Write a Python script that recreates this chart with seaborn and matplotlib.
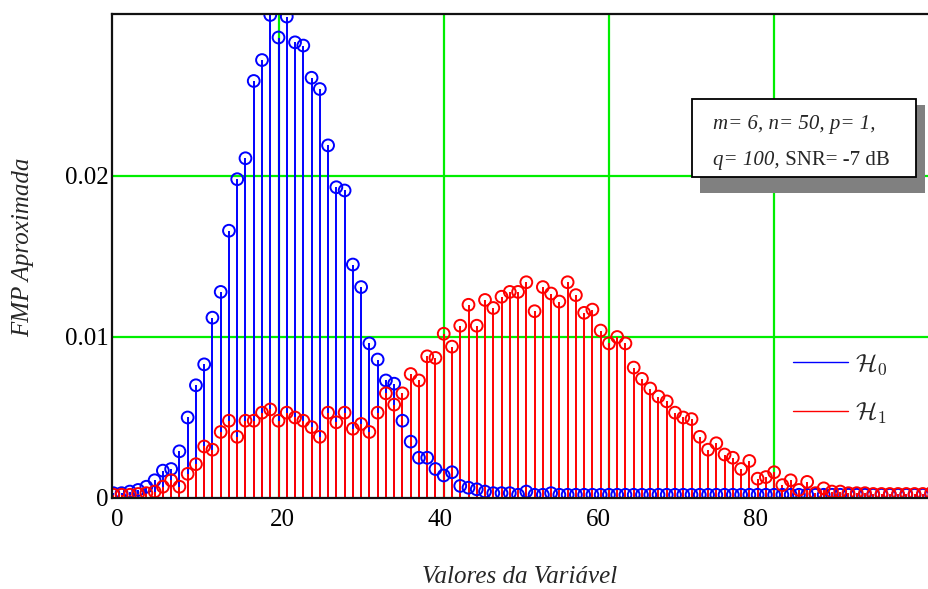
import matplotlib
matplotlib.use("Agg")
import matplotlib.pyplot as plt
import matplotlib.transforms as mtransforms
from matplotlib.lines import Line2D
from matplotlib.patches import Rectangle
from matplotlib.text import Annotation
import pandas as pd
import seaborn as sns

# Variable values (integers 0..99)
x_values = list(range(100))

# Approximate probability mass function under H0
fmp_h0 = [
    0.0003, 0.0003, 0.0004, 0.0005, 0.0007, 0.0011, 0.0017, 0.0018, 0.0029, 0.0050,
    0.0070, 0.0083, 0.0112, 0.0128, 0.0166, 0.0198, 0.0211, 0.0259, 0.0272, 0.0300,
    0.0286, 0.0299, 0.0283, 0.0281, 0.0261, 0.0254, 0.0219, 0.0193, 0.0191, 0.0145,
    0.0131, 0.0096, 0.0086, 0.0073, 0.0071, 0.0048, 0.0035, 0.0025, 0.0025, 0.0018,
    0.0014, 0.0016, 0.00075, 0.00064, 0.00054, 0.0004, 0.0003, 0.0003, 0.0003, 0.0002,
    0.0004, 0.0002, 0.0002, 0.0003, 0.0002, 0.0002, 0.0002, 0.0002, 0.0002, 0.0002,
    0.0002, 0.0002, 0.0002, 0.0002, 0.0002, 0.0002, 0.0002, 0.0002, 0.0002, 0.0002,
    0.0002, 0.0002, 0.0002, 0.0002, 0.0002, 0.0002, 0.0002, 0.0002, 0.0002, 0.0002,
    0.0002, 0.0002, 0.0002, 0.0002, 0.0002, 0.0002, 0.0002, 0.0002, 0.0002, 0.0002,
    0.0002, 0.0002, 0.0002, 0.0002, 0.0002, 0.0002, 0.0002, 0.0002, 0.0002, 0.0002,
]

# Approximate probability mass function under H1
fmp_h1 = [
    0.0002, 0.0002, 0.0002, 0.00025, 0.0003, 0.0004, 0.0007, 0.0011, 0.0007, 0.0015,
    0.0021, 0.0032, 0.0030, 0.0041, 0.0048, 0.0038, 0.0048, 0.0048, 0.0053, 0.0055,
    0.0048, 0.0053, 0.0050, 0.0048, 0.0044, 0.0038, 0.0053, 0.0047, 0.0053, 0.0043,
    0.0046, 0.0041, 0.0053, 0.0065, 0.0058, 0.0065, 0.0077, 0.0073, 0.0088, 0.0087,
    0.0102, 0.0094, 0.0107, 0.0120, 0.0107, 0.0123, 0.0118, 0.0125, 0.0128, 0.0128,
    0.0134, 0.0116, 0.0131, 0.0127, 0.0122, 0.0134, 0.0126, 0.0115, 0.0117, 0.0104,
    0.0096, 0.0100, 0.0096, 0.0081, 0.0074, 0.0068, 0.0063, 0.0060, 0.0053, 0.0050,
    0.0049, 0.0038, 0.0030, 0.0034, 0.0027, 0.0025, 0.0018, 0.0023, 0.0012, 0.0013,
    0.0016, 0.0008, 0.0011, 0.0005, 0.0010, 0.0003, 0.0006, 0.0004, 0.0004, 0.0003,
    0.0003, 0.0003, 0.00025, 0.00025, 0.00025, 0.00025, 0.00025, 0.00025, 0.00025, 0.0003,
]

series_names = [r"$\mathcal{H}_0$", r"$\mathcal{H}_1$"]
series_colors = ["#0000ff", "#ff0000"]

x_ticks = [0, 20, 40, 60, 80]
x_tick_labels = ["0", "20", "40", "60", "80"]
y_ticks = [0, 0.01, 0.02]
y_tick_labels = ["0", "0.01", "0.02"]

x_label = "Valores da Variável"
y_label = "FMP Aproximada"
info_line1 = "m= 6, n= 50, p= 1,"
info_line2_italic = "q= 100,"
info_line2_roman = " SNR= -7 dB"

sns.set_theme(style="white")
plt.rcParams["font.family"] = ["Liberation Serif", "DejaVu Serif"]
plt.rcParams["mathtext.fontset"] = "cm"

df = pd.DataFrame({
    "x": x_values * 2,
    "fmp": fmp_h0 + fmp_h1,
    "hip": [series_names[0]] * len(x_values) + [series_names[1]] * len(x_values),
})

W, H = 929, 589
fig = plt.figure(figsize=(W / 100, H / 100), dpi=100)
fig.patch.set_facecolor("white")
ax = fig.add_axes([112 / W, 1 - 498 / H, (W - 112) / W, (498 - 14) / H])
ax.set_facecolor("white")

# stems
for i, (name, color) in enumerate(zip(series_names, series_colors)):
    sub = df[df["hip"] == name]
    ax.vlines(sub["x"], 0, sub["fmp"], color=color, lw=1.4, zorder=2 + i)

# hollow circle heads
for i, (name, color) in enumerate(zip(series_names, series_colors)):
    sub = df[df["hip"] == name]
    sns.scatterplot(data=sub, x="x", y="fmp", ax=ax, marker="o", s=72,
                    facecolors="none", edgecolor=color, linewidth=1.4,
                    zorder=4 + i, legend=False)

ax.set_xlim(-0.16, 98.75)
ax.set_ylim(0, 0.03006)

# green grid
for gx in x_ticks[1:]:
    ax.axvline(gx, color="#00ee00", lw=1.6, zorder=1)
for gy in y_ticks[1:]:
    ax.axhline(gy, color="#00ee00", lw=1.6, zorder=1)
ax.grid(False)

ax.set_xticks(x_ticks)
ax.set_xticklabels(x_tick_labels)
ax.set_yticks(y_ticks)
ax.set_yticklabels(y_tick_labels)
ax.tick_params(axis="x", length=0, pad=8, labelsize=18, colors="black")
ax.tick_params(axis="y", length=0, pad=2.5, labelsize=18, colors="black")

# tick labels sit slightly off the grid, as in the original plotting tool
x_label_shift_px = [4, 4, -4, -11, -19]
for lab, dx in zip(ax.get_xticklabels(), x_label_shift_px):
    lab.set_transform(lab.get_transform() +
                      mtransforms.ScaledTranslation(dx / fig.dpi, 0, fig.dpi_scale_trans))

for side in ["left", "top", "bottom"]:
    ax.spines[side].set_visible(True)
    ax.spines[side].set_color("#111111")
    ax.spines[side].set_linewidth(1.6)
    ax.spines[side].set_zorder(6)
ax.spines["right"].set_visible(False)

ax.set_xlabel(x_label, fontsize=18, style="italic")
ax.set_ylabel(y_label, fontsize=18, style="italic")
ax.xaxis.label.set_va("center")
ax.yaxis.label.set_va("center")
ax.xaxis.set_label_coords((520 - 112) / (W - 112), (498 - 577) / (498 - 14))
ax.yaxis.set_label_coords((23 - 112) / (W - 112), (498 - 247) / (498 - 14))

# legend
handles = [Line2D([], [], color=c, lw=1.0) for c in series_colors]
leg = ax.legend(handles, series_names, loc="upper left", frameon=False,
                bbox_to_anchor=(793 / W, 1 - 352 / H), bbox_transform=fig.transFigure,
                fontsize=18, handlelength=2.2, handletextpad=0.3, labelspacing=0.95,
                borderpad=0, borderaxespad=0)
leg.set_zorder(8)

# parameter box with drop shadow
shadow = Rectangle((700 / W, 1 - 193 / H), 225 / W, 88 / H, transform=fig.transFigure,
                   facecolor="#808080", edgecolor="none", zorder=10)
box = Rectangle((692 / W, 1 - 177 / H), 224 / W, 78 / H, transform=fig.transFigure,
                facecolor="white", edgecolor="black", lw=1.3, zorder=11)
fig.add_artist(shadow)
fig.add_artist(box)
fig.text(713 / W, 1 - 129 / H, info_line1, fontsize=15, style="italic",
         va="baseline", ha="left", zorder=12)
t2 = fig.text(713 / W, 1 - 165 / H, info_line2_italic, fontsize=15, style="italic",
              va="baseline", ha="left", zorder=12)
ann = Annotation(info_line2_roman, xy=(1, 0), xycoords=t2, xytext=(0, 0),
                 textcoords="offset points", fontsize=15, va="bottom", ha="left",
                 annotation_clip=False)
ann.set_zorder(12)
fig.add_artist(ann)

fig.savefig("out.png", dpi=100, facecolor="white")
